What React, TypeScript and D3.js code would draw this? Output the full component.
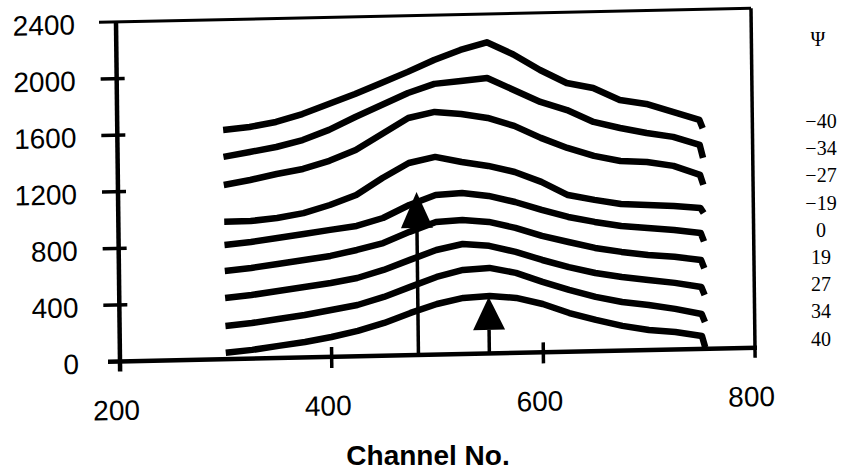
import React from "react";
import * as d3 from "d3";

// ---- data ----
const channels = [300, 325, 350, 375, 400, 425, 450, 475, 500, 525, 550, 575, 600, 625, 650, 675, 700, 725, 750, 753];
const psiLabels = ["\u221240", "\u221234", "\u221227", "\u221219", "0", "19", "27", "34", "40"];
const xTicks = [200, 400, 600, 800];
const yTicks = [0, 400, 800, 1200, 1600, 2000, 2400];

const psiM40 = [1621, 1638, 1669, 1721, 1788, 1855, 1928, 2003, 2083, 2150, 2200, 2110, 1996, 1900, 1861, 1772, 1740, 1680, 1619, 1560];
const psiM34 = [1430, 1461, 1492, 1537, 1605, 1692, 1773, 1854, 1914, 1931, 1948, 1859, 1770, 1709, 1621, 1574, 1535, 1503, 1442, 1350];
const psiM27 = [1232, 1263, 1301, 1333, 1386, 1459, 1568, 1677, 1716, 1697, 1665, 1605, 1516, 1441, 1381, 1341, 1330, 1298, 1230, 1160];
const psiM19 = [971, 973, 990, 1021, 1074, 1141, 1257, 1359, 1398, 1358, 1326, 1279, 1205, 1108, 1070, 1037, 1026, 1015, 997, 960];
const psi0 = [808, 825, 849, 873, 898, 922, 974, 1062, 1129, 1139, 1114, 1067, 1007, 953, 914, 881, 863, 845, 820, 760];
const psi19 = [624, 641, 665, 689, 714, 752, 797, 872, 938, 948, 930, 884, 823, 776, 730, 698, 672, 655, 629, 570];
const psi27 = [433, 450, 474, 498, 523, 554, 607, 674, 740, 778, 761, 714, 653, 599, 553, 521, 496, 471, 438, 380];
const psi34 = [235, 252, 276, 300, 332, 363, 416, 483, 549, 595, 605, 566, 498, 437, 384, 344, 319, 287, 247, 190];
const psi40 = [45, 62, 86, 110, 141, 180, 232, 299, 358, 397, 407, 389, 342, 274, 221, 175, 142, 124, 92, 10];

const seriesList = [psiM40, psiM34, psiM27, psiM19, psi0, psi19, psi27, psi34, psi40];

const arrowChannels = [482, 549];
const arrowTips = [1153, 400];
const arrowBases = [898, 167];

export default function App() {
  const W = 842, H = 472;
  const x0 = 120, y0 = 361.5, x1 = 755, yTop = 22;
  const x = d3.scaleLinear().domain([200, 800]).range([x0, x1]);
  const y = d3.scaleLinear().domain([0, 2400]).range([y0, yTop]);
  const line = d3.line<number>().x((_, i) => x(channels[i])).y((d) => y(d));
  const skew = `translate(${x0},${y0}) matrix(1,-0.0216,0.0118,1,0,0) translate(${-x0},${-y0})`;
  const sans = "'Liberation Sans', Arial, sans-serif";
  const serif = "'Liberation Serif', 'Times New Roman', serif";

  return (
    <svg width={W} height={H} style={{ position: "absolute", left: 0, top: 0, background: "#fff" }}>
      <rect x={0} y={0} width={W} height={H} fill="#fff" />
      <g transform={skew}>
        {/* frame */}
        <line x1={103} x2={x1} y1={yTop} y2={yTop} stroke="#000" strokeWidth={3} />
        <line x1={x1} x2={x1} y1={yTop} y2={y0 + 10} stroke="#000" strokeWidth={3.5} />
        <line x1={x0} x2={x0} y1={yTop} y2={y0 + 10} stroke="#000" strokeWidth={4.5} />
        <line x1={108} x2={x1 + 2} y1={y0} y2={y0} stroke="#000" strokeWidth={4.5} />
        {yTicks.slice(1, -1).map((t) => (
          <line key={t} x1={104} x2={128} y1={y(t)} y2={y(t)} stroke="#000" strokeWidth={3.5} />
        ))}
        {xTicks.slice(1, -1).map((t) => (
          <line key={t} x1={x(t)} x2={x(t)} y1={y0 - 10} y2={y0 + 11} stroke="#000" strokeWidth={3.5} />
        ))}
        {yTicks.map((t) => (
          <text key={t} x={79} y={y(t) + 2} textAnchor="end" dominantBaseline="central" fontFamily={sans} fontSize={28} fill="#000">
            {t}
          </text>
        ))}
        {xTicks.map((t) => (
          <text key={t} x={x(t) - 4} y={y0 + 49} textAnchor="middle" dominantBaseline="central" fontFamily={sans} fontSize={28} fill="#000">
            {t}
          </text>
        ))}
        {/* spectra */}
        {seriesList.map((s, i) => (
          <path key={i} d={line(s) || ""} fill="none" stroke="#000" strokeWidth={6.5} strokeLinejoin="round" />
        ))}
        {/* arrows */}
        {arrowChannels.map((c, i) => {
          const cx = x(c);
          const tip = y(arrowTips[i]);
          const base = y(arrowBases[i]);
          return (
            <g key={i}>
              <line x1={cx} x2={cx} y1={base} y2={y0} stroke="#000" strokeWidth={3.5} />
              <path d={`M${cx},${tip}L${cx - 16},${base}L${cx + 16},${base}Z`} fill="#000" />
            </g>
          );
        })}
      </g>
      <text x={428} y={465} textAnchor="middle" fontFamily={sans} fontWeight="bold" fontSize={28} fill="#000">
        Channel No.
      </text>
      <text x={818} y={46} textAnchor="middle" fontFamily={serif} fontSize={20} fill="#000">
        {"\u03A8"}
      </text>
      {psiLabels.map((p, i) => (
        <text key={p} x={821} y={121 + i * 27.2} textAnchor="middle" dominantBaseline="central" fontFamily={serif} fontSize={20} fill="#000">
          {p}
        </text>
      ))}
    </svg>
  );
}
